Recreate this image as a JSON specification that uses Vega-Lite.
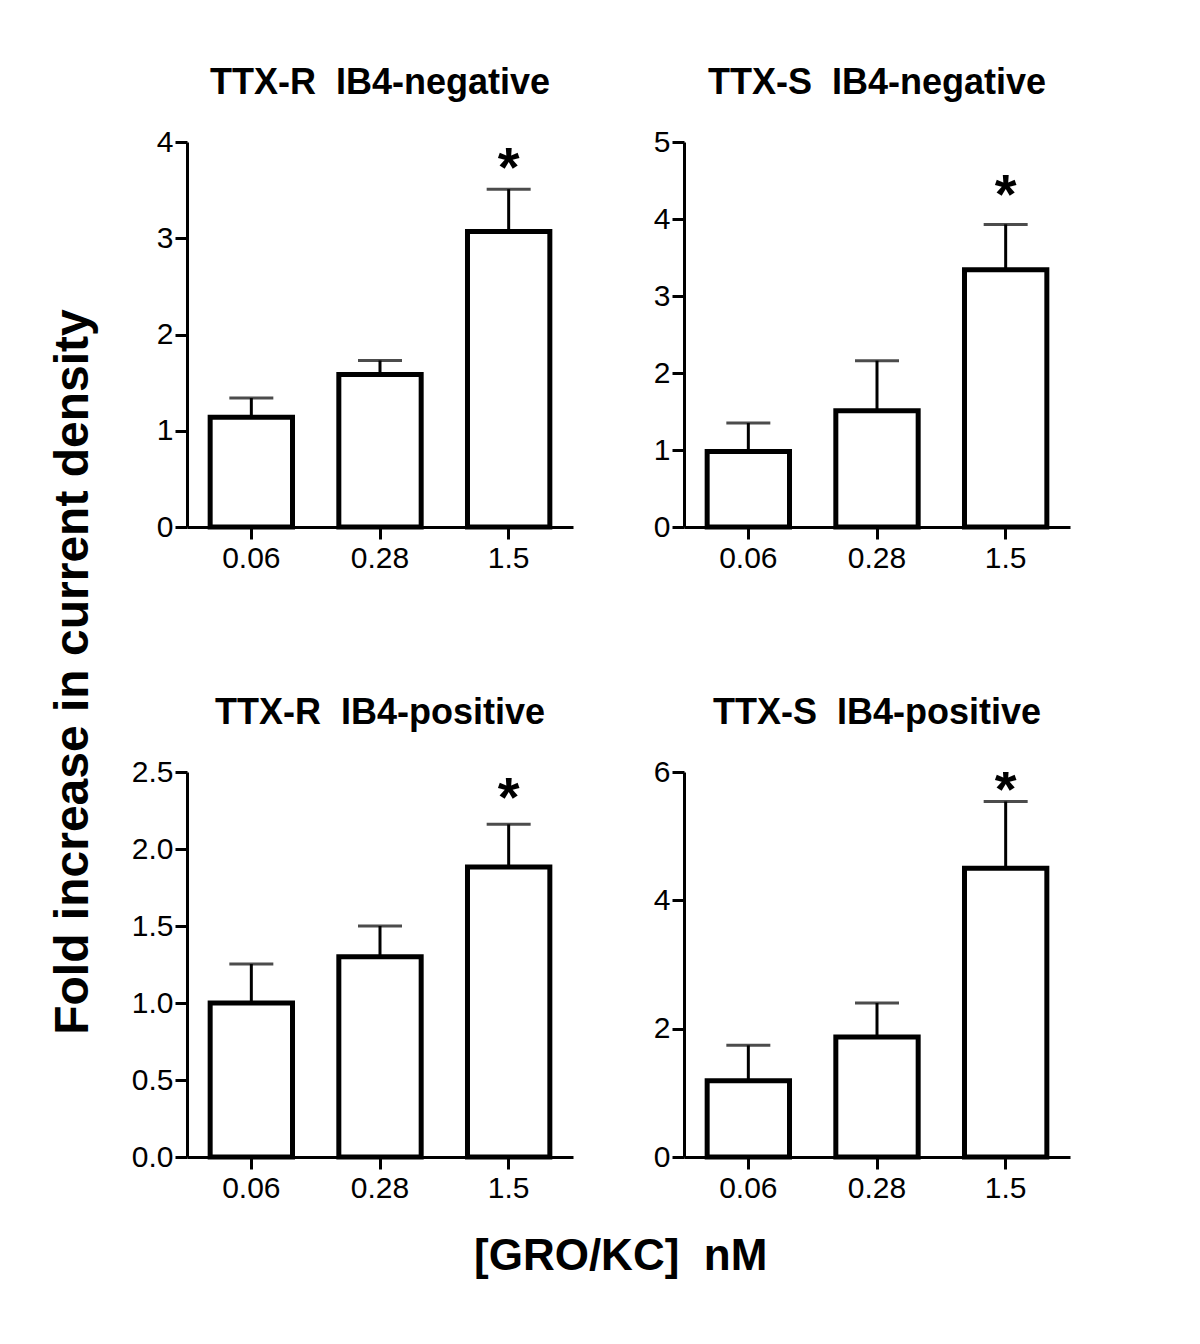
{
  "$schema": "https://vega.github.io/schema/vega-lite/v6.json",
  "background": "white",
  "padding": {"left": 50, "top": 65, "right": 5, "bottom": 5},
  "title": {
    "text": "Fold increase in current density",
    "orient": "left",
    "anchor": "middle",
    "fontSize": 48,
    "fontWeight": "bold",
    "font": "Liberation Sans",
    "color": "black",
    "offset": 33
  },
  "datasets": {
    "bars": [
      {"panel": "TL", "conc": "0.06", "mean": 1.14, "upper": 1.34, "star": "", "star_y": null},
      {"panel": "TL", "conc": "0.28", "mean": 1.585, "upper": 1.73, "star": "", "star_y": null},
      {"panel": "TL", "conc": "1.5", "mean": 3.07, "upper": 3.51, "star": "*", "star_y": 4.0},
      {"panel": "TR", "conc": "0.06", "mean": 0.98, "upper": 1.35, "star": "", "star_y": null},
      {"panel": "TR", "conc": "0.28", "mean": 1.51, "upper": 2.16, "star": "", "star_y": null},
      {"panel": "TR", "conc": "1.5", "mean": 3.34, "upper": 3.93, "star": "*", "star_y": 4.65},
      {"panel": "BL", "conc": "0.06", "mean": 1.0, "upper": 1.253, "star": "", "star_y": null},
      {"panel": "BL", "conc": "0.28", "mean": 1.30, "upper": 1.50, "star": "", "star_y": null},
      {"panel": "BL", "conc": "1.5", "mean": 1.883, "upper": 2.16, "star": "*", "star_y": 2.5},
      {"panel": "BR", "conc": "0.06", "mean": 1.19, "upper": 1.74, "star": "", "star_y": null},
      {"panel": "BR", "conc": "0.28", "mean": 1.87, "upper": 2.40, "star": "", "star_y": null},
      {"panel": "BR", "conc": "1.5", "mean": 4.50, "upper": 5.54, "star": "*", "star_y": 6.12}
    ]
  },
  "vconcat": [
    {
      "title": {
        "text": "[GRO/KC]\u00a0 nM",
        "orient": "bottom",
        "anchor": "middle",
        "fontSize": 44,
        "fontWeight": "bold",
        "font": "Liberation Sans",
        "color": "black",
        "offset": 32,
        "dx": 20
      },
      "columns": 2,
      "bounds": "flush",
      "spacing": {"row": 245, "column": 111},
      "concat": [
        {
          "width": 386, "height": 385,
          "title": {"text": "TTX-R\u00a0 IB4-negative"},
          "data": {"name": "bars"},
          "transform": [{"filter": "datum.panel === 'TL'"}],
          "encoding": {
            "x": {"field": "conc", "type": "ordinal", "sort": ["0.06", "0.28", "1.5"], "scale": {"paddingInner": 0.36, "paddingOuter": 0.18}, "axis": {"title": null, "labelAngle": 0}}
          },
          "layer": [
            {"mark": {"type": "rule", "strokeWidth": 3, "color": "black"},
             "encoding": {"y": {"field": "mean", "type": "quantitative", "scale": {"domain": [0, 4], "nice": false}, "axis": {"title": null, "values": [0, 1, 2, 3, 4], "format": "d"}}, "y2": {"field": "upper"}}},
            {"mark": {"type": "tick", "thickness": 3, "size": 44, "color": "black"},
             "encoding": {"y": {"field": "upper", "type": "quantitative"}}},
            {"mark": {"type": "bar", "fill": "white", "stroke": "black", "strokeWidth": 5},
             "encoding": {"y": {"field": "mean", "type": "quantitative"}}},
            {"transform": [{"filter": "datum.star !== ''"}],
             "mark": {"type": "text", "fontSize": 56, "fontWeight": "bold", "font": "Liberation Sans", "baseline": "top", "color": "black", "clip": true},
             "encoding": {"y": {"field": "star_y", "type": "quantitative", "scale": {"domain": [0, 4], "nice": false}}, "text": {"field": "star"}}}
          ]
        },
        {
          "width": 386, "height": 385,
          "title": {"text": "TTX-S\u00a0 IB4-negative"},
          "data": {"name": "bars"},
          "transform": [{"filter": "datum.panel === 'TR'"}],
          "encoding": {
            "x": {"field": "conc", "type": "ordinal", "sort": ["0.06", "0.28", "1.5"], "scale": {"paddingInner": 0.36, "paddingOuter": 0.18}, "axis": {"title": null, "labelAngle": 0}}
          },
          "layer": [
            {"mark": {"type": "rule", "strokeWidth": 3, "color": "black"},
             "encoding": {"y": {"field": "mean", "type": "quantitative", "scale": {"domain": [0, 5], "nice": false}, "axis": {"title": null, "values": [0, 1, 2, 3, 4, 5], "format": "d"}}, "y2": {"field": "upper"}}},
            {"mark": {"type": "tick", "thickness": 3, "size": 44, "color": "black"},
             "encoding": {"y": {"field": "upper", "type": "quantitative"}}},
            {"mark": {"type": "bar", "fill": "white", "stroke": "black", "strokeWidth": 5},
             "encoding": {"y": {"field": "mean", "type": "quantitative"}}},
            {"transform": [{"filter": "datum.star !== ''"}],
             "mark": {"type": "text", "fontSize": 56, "fontWeight": "bold", "font": "Liberation Sans", "baseline": "top", "color": "black", "clip": true},
             "encoding": {"y": {"field": "star_y", "type": "quantitative", "scale": {"domain": [0, 5], "nice": false}}, "text": {"field": "star"}}}
          ]
        },
        {
          "width": 386, "height": 385,
          "title": {"text": "TTX-R\u00a0 IB4-positive"},
          "data": {"name": "bars"},
          "transform": [{"filter": "datum.panel === 'BL'"}],
          "encoding": {
            "x": {"field": "conc", "type": "ordinal", "sort": ["0.06", "0.28", "1.5"], "scale": {"paddingInner": 0.36, "paddingOuter": 0.18}, "axis": {"title": null, "labelAngle": 0}}
          },
          "layer": [
            {"mark": {"type": "rule", "strokeWidth": 3, "color": "black"},
             "encoding": {"y": {"field": "mean", "type": "quantitative", "scale": {"domain": [0, 2.5], "nice": false}, "axis": {"title": null, "values": [0, 0.5, 1, 1.5, 2, 2.5], "format": ".1f"}}, "y2": {"field": "upper"}}},
            {"mark": {"type": "tick", "thickness": 3, "size": 44, "color": "black"},
             "encoding": {"y": {"field": "upper", "type": "quantitative"}}},
            {"mark": {"type": "bar", "fill": "white", "stroke": "black", "strokeWidth": 5},
             "encoding": {"y": {"field": "mean", "type": "quantitative"}}},
            {"transform": [{"filter": "datum.star !== ''"}],
             "mark": {"type": "text", "fontSize": 56, "fontWeight": "bold", "font": "Liberation Sans", "baseline": "top", "color": "black", "clip": true},
             "encoding": {"y": {"field": "star_y", "type": "quantitative", "scale": {"domain": [0, 2.5], "nice": false}}, "text": {"field": "star"}}}
          ]
        },
        {
          "width": 386, "height": 385,
          "title": {"text": "TTX-S\u00a0 IB4-positive"},
          "data": {"name": "bars"},
          "transform": [{"filter": "datum.panel === 'BR'"}],
          "encoding": {
            "x": {"field": "conc", "type": "ordinal", "sort": ["0.06", "0.28", "1.5"], "scale": {"paddingInner": 0.36, "paddingOuter": 0.18}, "axis": {"title": null, "labelAngle": 0}}
          },
          "layer": [
            {"mark": {"type": "rule", "strokeWidth": 3, "color": "black"},
             "encoding": {"y": {"field": "mean", "type": "quantitative", "scale": {"domain": [0, 6], "nice": false}, "axis": {"title": null, "values": [0, 2, 4, 6], "format": "d"}}, "y2": {"field": "upper"}}},
            {"mark": {"type": "tick", "thickness": 3, "size": 44, "color": "black"},
             "encoding": {"y": {"field": "upper", "type": "quantitative"}}},
            {"mark": {"type": "bar", "fill": "white", "stroke": "black", "strokeWidth": 5},
             "encoding": {"y": {"field": "mean", "type": "quantitative"}}},
            {"transform": [{"filter": "datum.star !== ''"}],
             "mark": {"type": "text", "fontSize": 56, "fontWeight": "bold", "font": "Liberation Sans", "baseline": "top", "color": "black", "clip": true},
             "encoding": {"y": {"field": "star_y", "type": "quantitative", "scale": {"domain": [0, 6], "nice": false}}, "text": {"field": "star"}}}
          ]
        }
      ]
    }
  ],
  "config": {
    "font": "Liberation Sans",
    "view": {"stroke": null},
    "title": {"fontSize": 36, "fontWeight": "bold", "font": "Liberation Sans", "color": "black", "offset": 25, "anchor": "middle"},
    "axis": {
      "grid": false,
      "domainColor": "black",
      "domainWidth": 3,
      "tickColor": "black",
      "tickWidth": 3,
      "tickSize": 12,
      "labelFont": "Liberation Sans",
      "labelFontSize": 30,
      "labelColor": "black",
      "labelPadding": 4
    },
    "axisY": {"labelPadding": 2}
  }
}
